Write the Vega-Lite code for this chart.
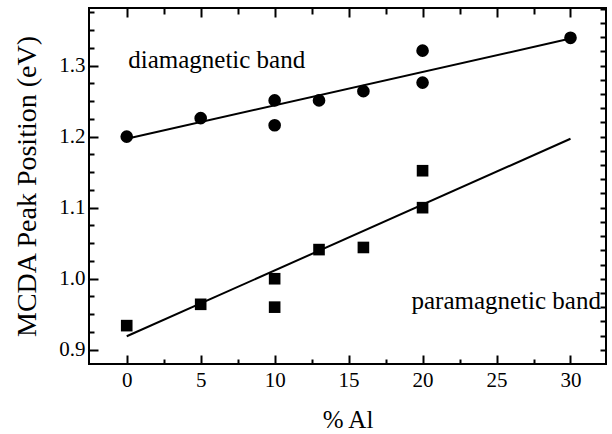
{
  "$schema": "https://vega.github.io/schema/vega-lite/v6.json",
  "width": 517,
  "height": 356,
  "autosize": {"type": "none"},
  "padding": {"left": 89, "top": 8, "right": 6, "bottom": 70},
  "background": "white",
  "config": {
    "view": {"stroke": "black", "strokeWidth": 2},
    "font": "Liberation Serif",
    "axis": {
      "zindex": 1,
      "domain": false,
      "grid": false,
      "labelColor": "black",
      "titleColor": "black",
      "labelFont": "Liberation Serif",
      "titleFont": "Liberation Serif",
      "labelFontSize": 21,
      "titleFontWeight": "normal",
      "titleLimit": 1000
    }
  },
  "datasets": {
    "dia": [
      {"al": 0, "peak": 1.2},
      {"al": 5, "peak": 1.226},
      {"al": 10, "peak": 1.251},
      {"al": 10, "peak": 1.216},
      {"al": 13, "peak": 1.251},
      {"al": 16, "peak": 1.264},
      {"al": 20, "peak": 1.321},
      {"al": 20, "peak": 1.276},
      {"al": 30, "peak": 1.339}
    ],
    "para": [
      {"al": 0, "peak": 0.934},
      {"al": 5, "peak": 0.964},
      {"al": 10, "peak": 1.0},
      {"al": 10, "peak": 0.96},
      {"al": 13, "peak": 1.041},
      {"al": 16, "peak": 1.044},
      {"al": 20, "peak": 1.1},
      {"al": 20, "peak": 1.152}
    ],
    "fits": [
      {"band": "dia", "al": 0, "peak": 1.197},
      {"band": "dia", "al": 30, "peak": 1.338},
      {"band": "para", "al": 0, "peak": 0.919},
      {"band": "para", "al": 30, "peak": 1.197}
    ],
    "labels": [
      {"al": 0.1, "peak": 1.308, "text": "diamagnetic band"},
      {"al": 19.25, "peak": 0.968, "text": "paramagnetic band"}
    ]
  },
  "layer": [
    {
      "data": {"name": "fits"},
      "mark": {"type": "line", "color": "black", "strokeWidth": 2},
      "encoding": {
        "x": {
          "field": "al", "type": "quantitative",
          "scale": {"domain": [-2.55, 32.4], "nice": false, "zero": false},
          "axis": {"orient": "top", "title": null, "labels": false, "ticks": true, "tickColor": "black", "tickWidth": 2, "values": [2.5, 7.5, 12.5, 17.5, 22.5, 27.5], "tickSize": -6}
        },
        "y": {
          "field": "peak", "type": "quantitative",
          "scale": {"domain": [0.88, 1.381], "nice": false, "zero": false},
          "axis": {"orient": "right", "title": null, "labels": false, "ticks": true, "tickColor": "black", "tickWidth": 2, "values": [0.9, 0.92, 0.94, 0.96, 0.98, 1.0, 1.02, 1.04, 1.06, 1.08, 1.1, 1.12, 1.14, 1.16, 1.18, 1.2, 1.22, 1.24, 1.26, 1.28, 1.3, 1.32, 1.34, 1.36, 1.38], "tickSize": -6}
        },
        "detail": {"field": "band"}
      }
    },
    {
      "data": {"name": "dia"},
      "mark": {"type": "point", "shape": "circle", "filled": true, "color": "black", "opacity": 1, "size": 160},
      "encoding": {
        "x": {
          "field": "al", "type": "quantitative",
          "axis": {
            "orient": "bottom",
            "title": "% Al",
            "titleFontSize": 25,
            "titlePadding": 17,
            "values": [0, 5, 10, 15, 20, 25, 30],
            "ticks": true, "tickColor": "black", "tickWidth": 2,
            "tickSize": -9,
            "labelPadding": 14
          }
        },
        "y": {
          "field": "peak", "type": "quantitative",
          "axis": {
            "orient": "left",
            "title": "MCDA Peak Position (eV)",
            "titleFontSize": 28,
            "titlePadding": 17,
            "titleLimit": 1000,
            "values": [0.9, 1.0, 1.1, 1.2, 1.3],
            "format": ".1f",
            "ticks": true, "tickColor": "black", "tickWidth": 2,
            "tickSize": -9,
            "labelPadding": 13
          }
        }
      }
    },
    {
      "data": {"name": "para"},
      "mark": {"type": "point", "shape": "square", "filled": true, "color": "black", "opacity": 1, "size": 135},
      "encoding": {
        "x": {
          "field": "al", "type": "quantitative",
          "axis": {"orient": "bottom", "title": null, "labels": false, "ticks": true, "tickColor": "black", "tickWidth": 2, "values": [2.5, 7.5, 12.5, 17.5, 22.5, 27.5], "tickSize": -5}
        },
        "y": {
          "field": "peak", "type": "quantitative",
          "axis": {"orient": "left", "title": null, "labels": false, "ticks": true, "tickColor": "black", "tickWidth": 2, "values": [0.925, 0.95, 0.975, 1.025, 1.05, 1.075, 1.125, 1.15, 1.175, 1.225, 1.25, 1.275, 1.325, 1.35, 1.375], "tickSize": -5}
        }
      }
    },
    {
      "data": {"name": "labels"},
      "mark": {"type": "text", "align": "left", "baseline": "middle", "font": "Liberation Serif", "fontSize": 25, "color": "black"},
      "encoding": {
        "x": {
          "field": "al", "type": "quantitative",
          "axis": {"orient": "top", "title": null, "labels": false, "ticks": true, "tickColor": "black", "tickWidth": 2, "values": [0, 5, 10, 15, 20, 25, 30], "tickSize": -9}
        },
        "y": {"field": "peak", "type": "quantitative", "axis": null},
        "text": {"field": "text"}
      }
    }
  ],
  "resolve": {"axis": {"x": "independent", "y": "independent"}}
}
